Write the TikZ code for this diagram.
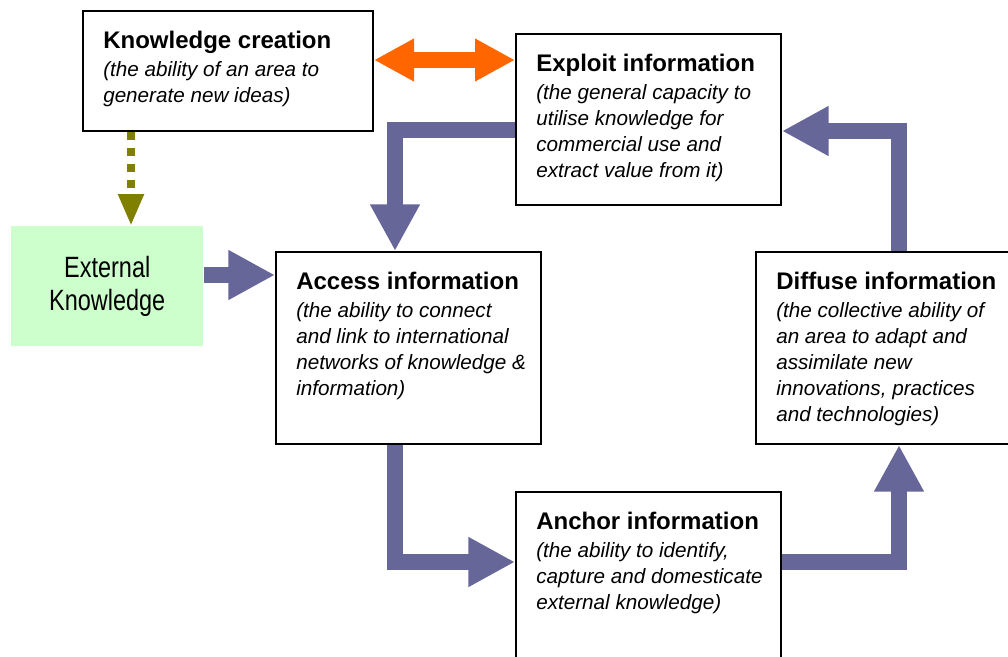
\documentclass[tikz,border=0pt]{standalone}
\usepackage{fontspec}
\setmainfont{Liberation Sans}
\newfontfamily\extfont[FakeStretch=0.8]{Liberation Sans}
\usepackage{xcolor}
\usepackage{tikz}
\usetikzlibrary{positioning, arrows.meta, calc}
\definecolor{flowpurple}{HTML}{666699}
\definecolor{linkorange}{HTML}{FF6600}
\definecolor{feedolive}{HTML}{808000}
\definecolor{extgreen}{HTML}{CCFFCC}
% description lines, baseline on the first line
\newcommand{\capdesc}[1]{\begin{tabular}[t]{@{}l@{}}#1\end{tabular}}

\begin{document}
\begin{tikzpicture}[
    x=0.75pt, y=-0.75pt,
    capbox/.style={draw, line width=1.5pt, fill=white, anchor=north west, inner sep=0pt},
    extbox/.style={fill=extgreen, anchor=north west, inner sep=0pt, minimum width=144pt, minimum height=90pt},
    ttl/.style={font=\bfseries\fontsize{18}{21}\selectfont, anchor=base west, inner sep=0pt},
    dsc/.style={font=\itshape\fontsize{15.5}{19.5}\selectfont, anchor=base west, inner sep=0pt},
    flow/.style={draw=flowpurple, line width=12pt, line join=miter, -{Triangle[width=35pt, length=35pt]}},
    link/.style={draw=linkorange, line width=12pt, {Triangle[width=30pt, length=30pt]}-{Triangle[width=30pt, length=30pt]}},
    feed/.style={draw=feedolive, line width=6pt, dash pattern=on 6pt off 6pt, -{Triangle[width=18pt, length=24pt]}}
]
\useasboundingbox (0,0) rectangle (1008,657);
\clip (0,0) rectangle (1008,657);
% Boxes
\node[capbox, minimum width=217.5pt,  minimum height=90pt]    (kc)  at (82,10)   {};
\node[capbox, minimum width=198.75pt, minimum height=128.25pt] (ex)  at (515,33)  {};
\node[extbox, align=center, font=\extfont\fontsize{22}{24.75}\selectfont] (ext) at (11,226) {External\\Knowledge};
\node[capbox, minimum width=198.75pt, minimum height=144pt]   (acc) at (275,251) {};
\node[capbox, minimum width=206.25pt, minimum height=144pt]   (dif) at (755,251) {};
\node[capbox, minimum width=198.75pt, minimum height=157.5pt] (anc) at (515,491) {};
% Titles
\node[ttl] (kcttl)  at ($(kc.north west)+(21,38)$)  {Knowledge creation};
\node[ttl] (exttl)  at ($(ex.north west)+(21,38)$)  {Exploit information};
\node[ttl] (accttl) at ($(acc.north west)+(21,38)$) {Access information};
\node[ttl] (difttl) at ($(dif.north west)+(21,38)$) {Diffuse information};
\node[ttl] (ancttl) at ($(anc.north west)+(21,38)$) {Anchor information};
% Descriptions
\node[dsc] (kcdsc)  at ($(kcttl.base west)+(0,28)$)  {\capdesc{(the ability of an area to\\generate new ideas)}};
\node[dsc] (exdsc)  at ($(exttl.base west)+(0,28)$)  {\capdesc{(the general capacity to\\utilise knowledge for\\commercial use and\\extract value from it)}};
\node[dsc] (accdsc) at ($(accttl.base west)+(0,28)$) {\capdesc{(the ability to connect\\and link to international\\networks of knowledge \&\\information)}};
\node[dsc] (difdsc) at ($(difttl.base west)+(0,28)$) {\capdesc{(the collective ability of\\an area to adapt and\\assimilate new\\innovations, practices\\and technologies)}};
\node[dsc] (ancdsc) at ($(ancttl.base west)+(0,28)$) {\capdesc{(the ability to identify,\\capture and domesticate\\external knowledge)}};
% --- Links ---
\draw[link] (kc.east |- 0,60) -- (ex.west |- 0,60);
\draw[feed] (kc.south -| 131,0) -- (ext.north -| 131,0);
\draw[flow] (ext.east |- 0,275) -- (acc.west |- 0,275);
% --- Cycle ---
\draw[flow] (ex.west |- 0,130) -| (acc.north -| 395,0);
\draw[flow] (acc.south -| 395,0) |- (anc.west |- 0,562);
\draw[flow] (anc.east |- 0,562) -| (dif.south -| 899,0);
\draw[flow] (dif.north -| 899,0) |- (ex.east |- 0,131);
\end{tikzpicture}
\end{document}
